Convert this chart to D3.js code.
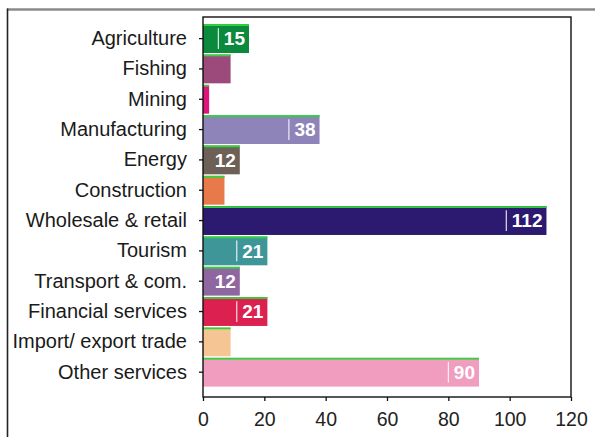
<!DOCTYPE html>
<html>
<head>
<meta charset="utf-8">
<script src="https://cdn.jsdelivr.net/npm/d3@7"></script>
<style>
  html, body { margin: 0; padding: 0; background: #fff; }
  svg { display: block; }
  text { font-family: "Liberation Sans", Arial, Helvetica, sans-serif; }
</style>
</head>
<body>
<svg id="chart" width="595" height="437"></svg>
<script>
// Number of enterprises by sector
const categories = [
  "Agriculture", "Fishing", "Mining", "Manufacturing", "Energy", "Construction",
  "Wholesale & retail", "Tourism", "Transport & com.", "Financial services",
  "Import/ export trade", "Other services"
];
const values = [15, 9, 2, 38, 12, 7, 112, 21, 12, 21, 9, 90];
// Values printed on the bars (null = no label)
const valueLabels = ["15", null, null, "38", "12", null, "112", "21", "12", "21", null, "90"];
const barColors = [
  "#0b8a3e", "#9b4a7b", "#e0157c", "#8f84b9", "#6d6057", "#e8794a",
  "#2b1a6f", "#3f9699", "#8e66a0", "#dc2150", "#f5c693", "#f09dbf"
];
const xTicks = [0, 20, 40, 60, 80, 100, 120];

const svg = d3.select("#chart");

// Outer frame: grey rule along the top, dark rule down the left side
svg.append("line")
  .attr("x1", 7).attr("x2", 595).attr("y1", 9.5).attr("y2", 9.5)
  .attr("stroke", "#8a8a8a").attr("stroke-width", 2.5);
svg.append("line")
  .attr("x1", 7.5).attr("x2", 7.5).attr("y1", 8.5).attr("y2", 437)
  .attr("stroke", "#222").attr("stroke-width", 1.6);

const plot = { left: 203, right: 571, top: 17, bottom: 397 };

const x = d3.scaleLinear().domain([0, 120]).range([plot.left, plot.right]);
const y = d3.scaleBand().domain(categories).range([24.2, 386.6]).paddingInner(0.05);

const data = categories.map((c, i) => ({ c, v: values[i], label: valueLabels[i], color: barColors[i] }));

// Bars
const g = svg.append("g");
g.selectAll("rect.bar").data(data).join("rect")
  .attr("class", "bar")
  .attr("x", x(0))
  .attr("y", d => y(d.c))
  .attr("width", d => x(d.v) - x(0))
  .attr("height", y.bandwidth())
  .attr("fill", d => d.color);

// Bright green highlight along the top edge of each bar
g.selectAll("rect.edge").data(data).join("rect")
  .attr("class", "edge")
  .attr("x", x(0))
  .attr("y", d => y(d.c))
  .attr("width", d => x(d.v) - x(0))
  .attr("height", 1.8)
  .attr("fill", "#2fd43a");

// Value labels, right-aligned inside the bar end, with a thin separator when there is room
const labelled = data.filter(d => d.label);
const lg = g.selectAll("g.lbl").data(labelled).join("g").attr("class", "lbl");
lg.append("text")
  .attr("x", d => x(d.v) - 4)
  .attr("y", d => y(d.c) + y.bandwidth() / 2)
  .attr("dy", "0.36em")
  .attr("text-anchor", "end")
  .attr("fill", "#fff")
  .attr("font-weight", "bold")
  .attr("font-size", 19)
  .text(d => d.label);
lg.each(function (d) {
  const t = d3.select(this).select("text").node();
  const w = t.getComputedTextLength();
  const sepX = x(d.v) - 4 - w - 5.5;
  if (sepX - x(0) >= 10) {
    d3.select(this).append("line")
      .attr("x1", sepX).attr("x2", sepX)
      .attr("y1", y(d.c) + 4).attr("y2", y(d.c) + y.bandwidth() - 4)
      .attr("stroke", "#fff").attr("stroke-width", 1.2).attr("opacity", 0.85);
  }
});

// Plot frame
svg.append("rect")
  .attr("x", plot.left).attr("y", plot.top)
  .attr("width", plot.right - plot.left).attr("height", plot.bottom - plot.top)
  .attr("fill", "none").attr("stroke", "#111").attr("stroke-width", 1.4);

// Category axis
const yAxis = svg.append("g")
  .attr("transform", `translate(${plot.left},0)`)
  .call(d3.axisLeft(y).tickSize(4).tickPadding(12));
yAxis.select(".domain").remove();
yAxis.selectAll(".tick line").attr("stroke", "#111").attr("stroke-width", 1.3);
yAxis.selectAll(".tick text")
  .attr("font-size", 20).attr("fill", "#1a1a1a")
  .style("font-family", "'Liberation Sans', Arial, sans-serif");

// Value axis
const xAxis = svg.append("g")
  .attr("transform", `translate(0,${plot.bottom})`)
  .call(d3.axisBottom(x).tickValues(xTicks).tickFormat(d3.format("d")).tickSize(4).tickPadding(11));
xAxis.select(".domain").remove();
xAxis.selectAll(".tick line").attr("stroke", "#111").attr("stroke-width", 1.3);
xAxis.selectAll(".tick text")
  .attr("font-size", 19.5).attr("fill", "#222")
  .style("font-family", "'Liberation Sans', Arial, sans-serif");
</script>
</body>
</html>
